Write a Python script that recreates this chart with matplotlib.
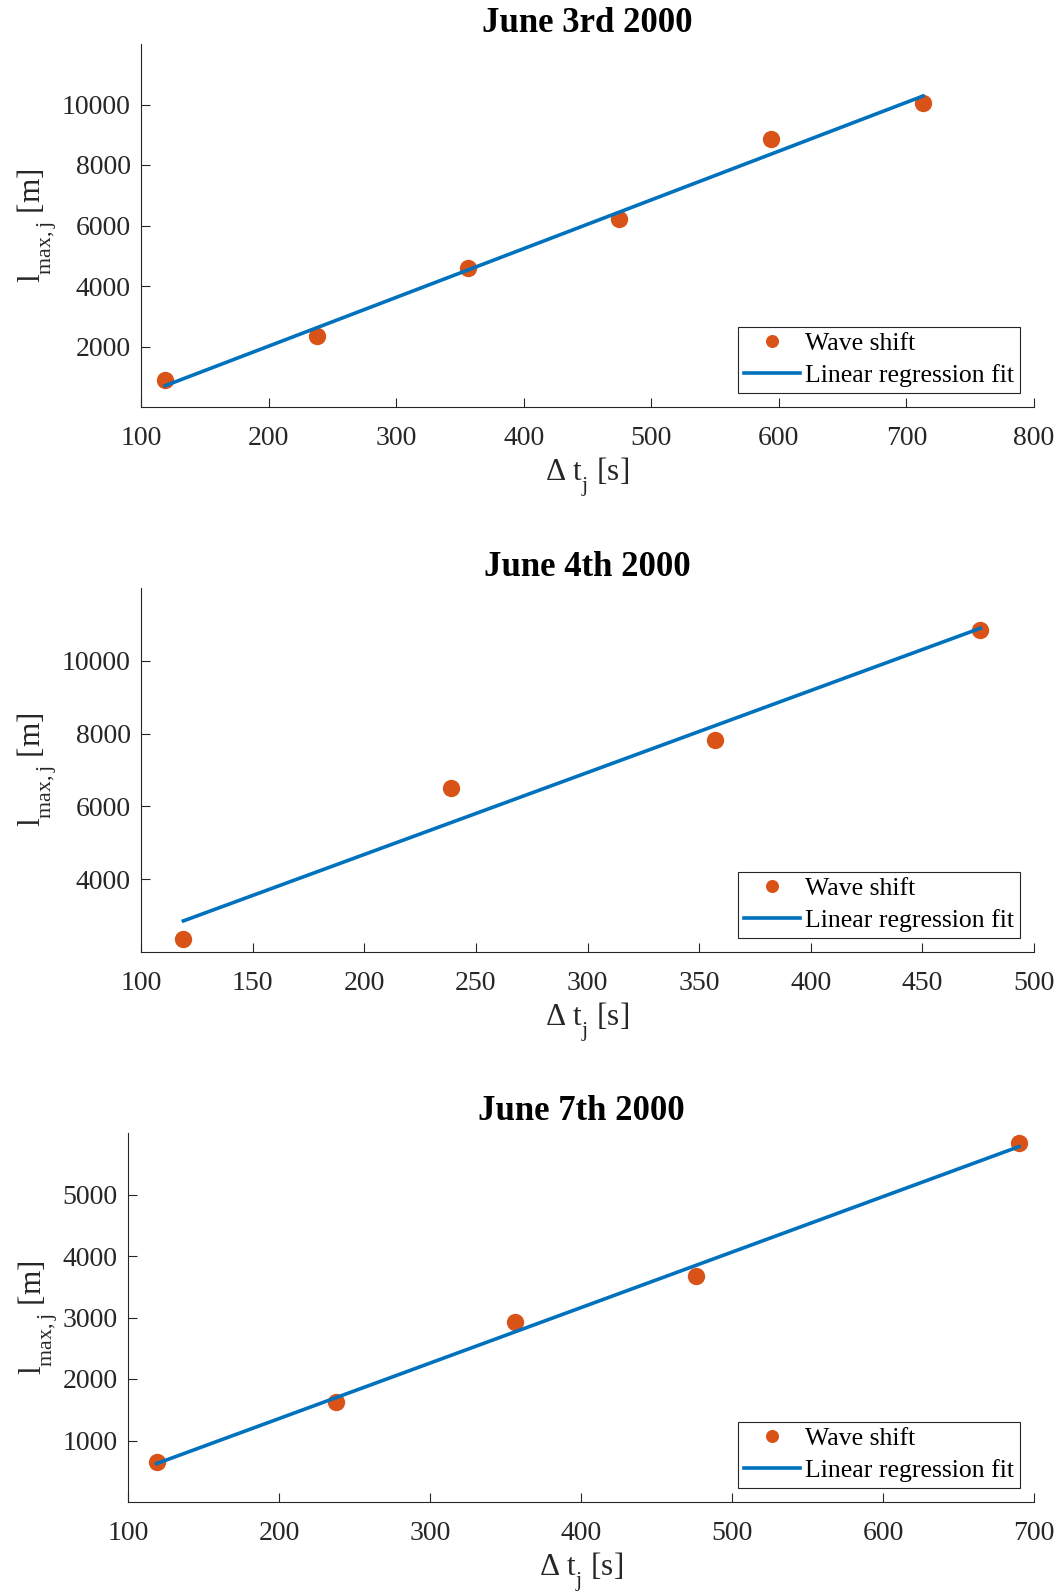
#!/usr/bin/env python

####################################################
### Import Libraries

import numpy as np
import matplotlib
matplotlib.use('Agg')
import matplotlib.pyplot as plt
import matplotlib._mathtext as mathtext_internals

####################################################
### Values

# June 3rd 2000
dt_jun3 = [119, 238, 356, 475, 594, 713]
lmax_jun3 = [880, 2355, 4590, 6230, 8875, 10050]
fit_x_jun3 = [119, 713]
fit_y_jun3 = [705, 10280]

# June 4th 2000
dt_jun4 = [119, 239, 357, 476]
lmax_jun4 = [2350, 6515, 7820, 10850]
fit_x_jun4 = [119, 476]
fit_y_jun4 = [2855, 10895]

# June 7th 2000
dt_jun7 = [119, 238, 356, 476, 690]
lmax_jun7 = [650, 1630, 2920, 3680, 5835]
fit_x_jun7 = [119, 690]
fit_y_jun7 = [625, 5778]

titles = ['June 3rd 2000', 'June 4th 2000', 'June 7th 2000']

xticks_jun3 = [100, 200, 300, 400, 500, 600, 700, 800]
xticks_jun4 = [100, 150, 200, 250, 300, 350, 400, 450, 500]
xticks_jun7 = [100, 200, 300, 400, 500, 600, 700]

yticks_jun3 = [2000, 4000, 6000, 8000, 10000]
yticks_jun4 = [4000, 6000, 8000, 10000]
yticks_jun7 = [1000, 2000, 3000, 4000, 5000]

####################################################
### Plot style (MATLAB look)

matplotlib.rcParams['font.family'] = 'serif'
matplotlib.rcParams['font.serif'] = ['Liberation Serif', 'DejaVu Serif']
matplotlib.rcParams['mathtext.fontset'] = 'custom'
matplotlib.rcParams['mathtext.rm'] = 'Liberation Serif'
matplotlib.rcParams['mathtext.it'] = 'Liberation Serif:italic'
matplotlib.rcParams['mathtext.bf'] = 'Liberation Serif:bold'

# MATLAB's tex interpreter drops subscripts further than mathtext does
try:
    mathtext_internals.FontConstantsBase.sub1 = 0.75
except AttributeError:
    pass

BLUE = '#0072BD'
ORANGE = '#D95319'
AXCOL = '#262626'

W, H = 1062, 1596

def px_rect(left, top, right, bottom):
    return [left / W, 1 - bottom / H, (right - left) / W, (bottom - top) / H]

def draw_panel(ax, x, y, fx, fy, title, xlim, ylim, xticks, yticks):
    ax.plot(x, y, 'o', color=ORANGE, ms=12.5, mec='none', label='Wave shift', zorder=2)
    ax.plot(fx, fy, '-', color=BLUE, lw=2.6, label='Linear regression fit', zorder=3)

    ax.set_xlim(xlim)
    ax.set_ylim(ylim)
    ax.set_xticks(xticks)
    ax.set_yticks(yticks)

    for s in ['top', 'right']:
        ax.spines[s].set_visible(False)
    for s in ['left', 'bottom']:
        ax.spines[s].set_color(AXCOL)
        ax.spines[s].set_linewidth(0.8)

    ax.tick_params(axis='both', direction='in', length=6.7, width=0.8,
                   colors=AXCOL, labelsize=20)
    ax.tick_params(axis='x', pad=14)
    ax.tick_params(axis='y', pad=7.5)

    ax.set_title(title, fontsize=25, fontweight='bold', pad=9)
    ax.set_xlabel('Δ t$_{\\mathrm{j}}$ [s]', fontsize=22.5, color=AXCOL, labelpad=3)
    ax.set_ylabel('l$_{\\mathrm{max,j}}$ [m]', fontsize=22.5, color=AXCOL, labelpad=2)

    leg = ax.legend(loc='lower right', fontsize=18.5, fancybox=False, framealpha=1,
                    edgecolor=AXCOL, markerscale=0.75, labelspacing=0.35,
                    borderpad=0.22, handlelength=2.2, handletextpad=0.2,
                    borderaxespad=0.55)
    leg.get_frame().set_linewidth(0.8)

####################################################
### Build figure

fig = plt.figure(figsize=(W / 100, H / 100), dpi=100)

ax1 = fig.add_axes(px_rect(141, 44, 1034, 407))
ax2 = fig.add_axes(px_rect(141, 588, 1034, 952))
ax3 = fig.add_axes(px_rect(128, 1133, 1034, 1502))

draw_panel(ax1, dt_jun3, lmax_jun3, fit_x_jun3, fit_y_jun3, titles[0],
           (100, 800), (0, 12000), xticks_jun3, yticks_jun3)
draw_panel(ax2, dt_jun4, lmax_jun4, fit_x_jun4, fit_y_jun4, titles[1],
           (100, 500), (2000, 12000), xticks_jun4, yticks_jun4)
draw_panel(ax3, dt_jun7, lmax_jun7, fit_x_jun7, fit_y_jun7, titles[2],
           (100, 700), (0, 6000), xticks_jun7, yticks_jun7)

fig.savefig('out.png', dpi=100)
plt.close(fig)
